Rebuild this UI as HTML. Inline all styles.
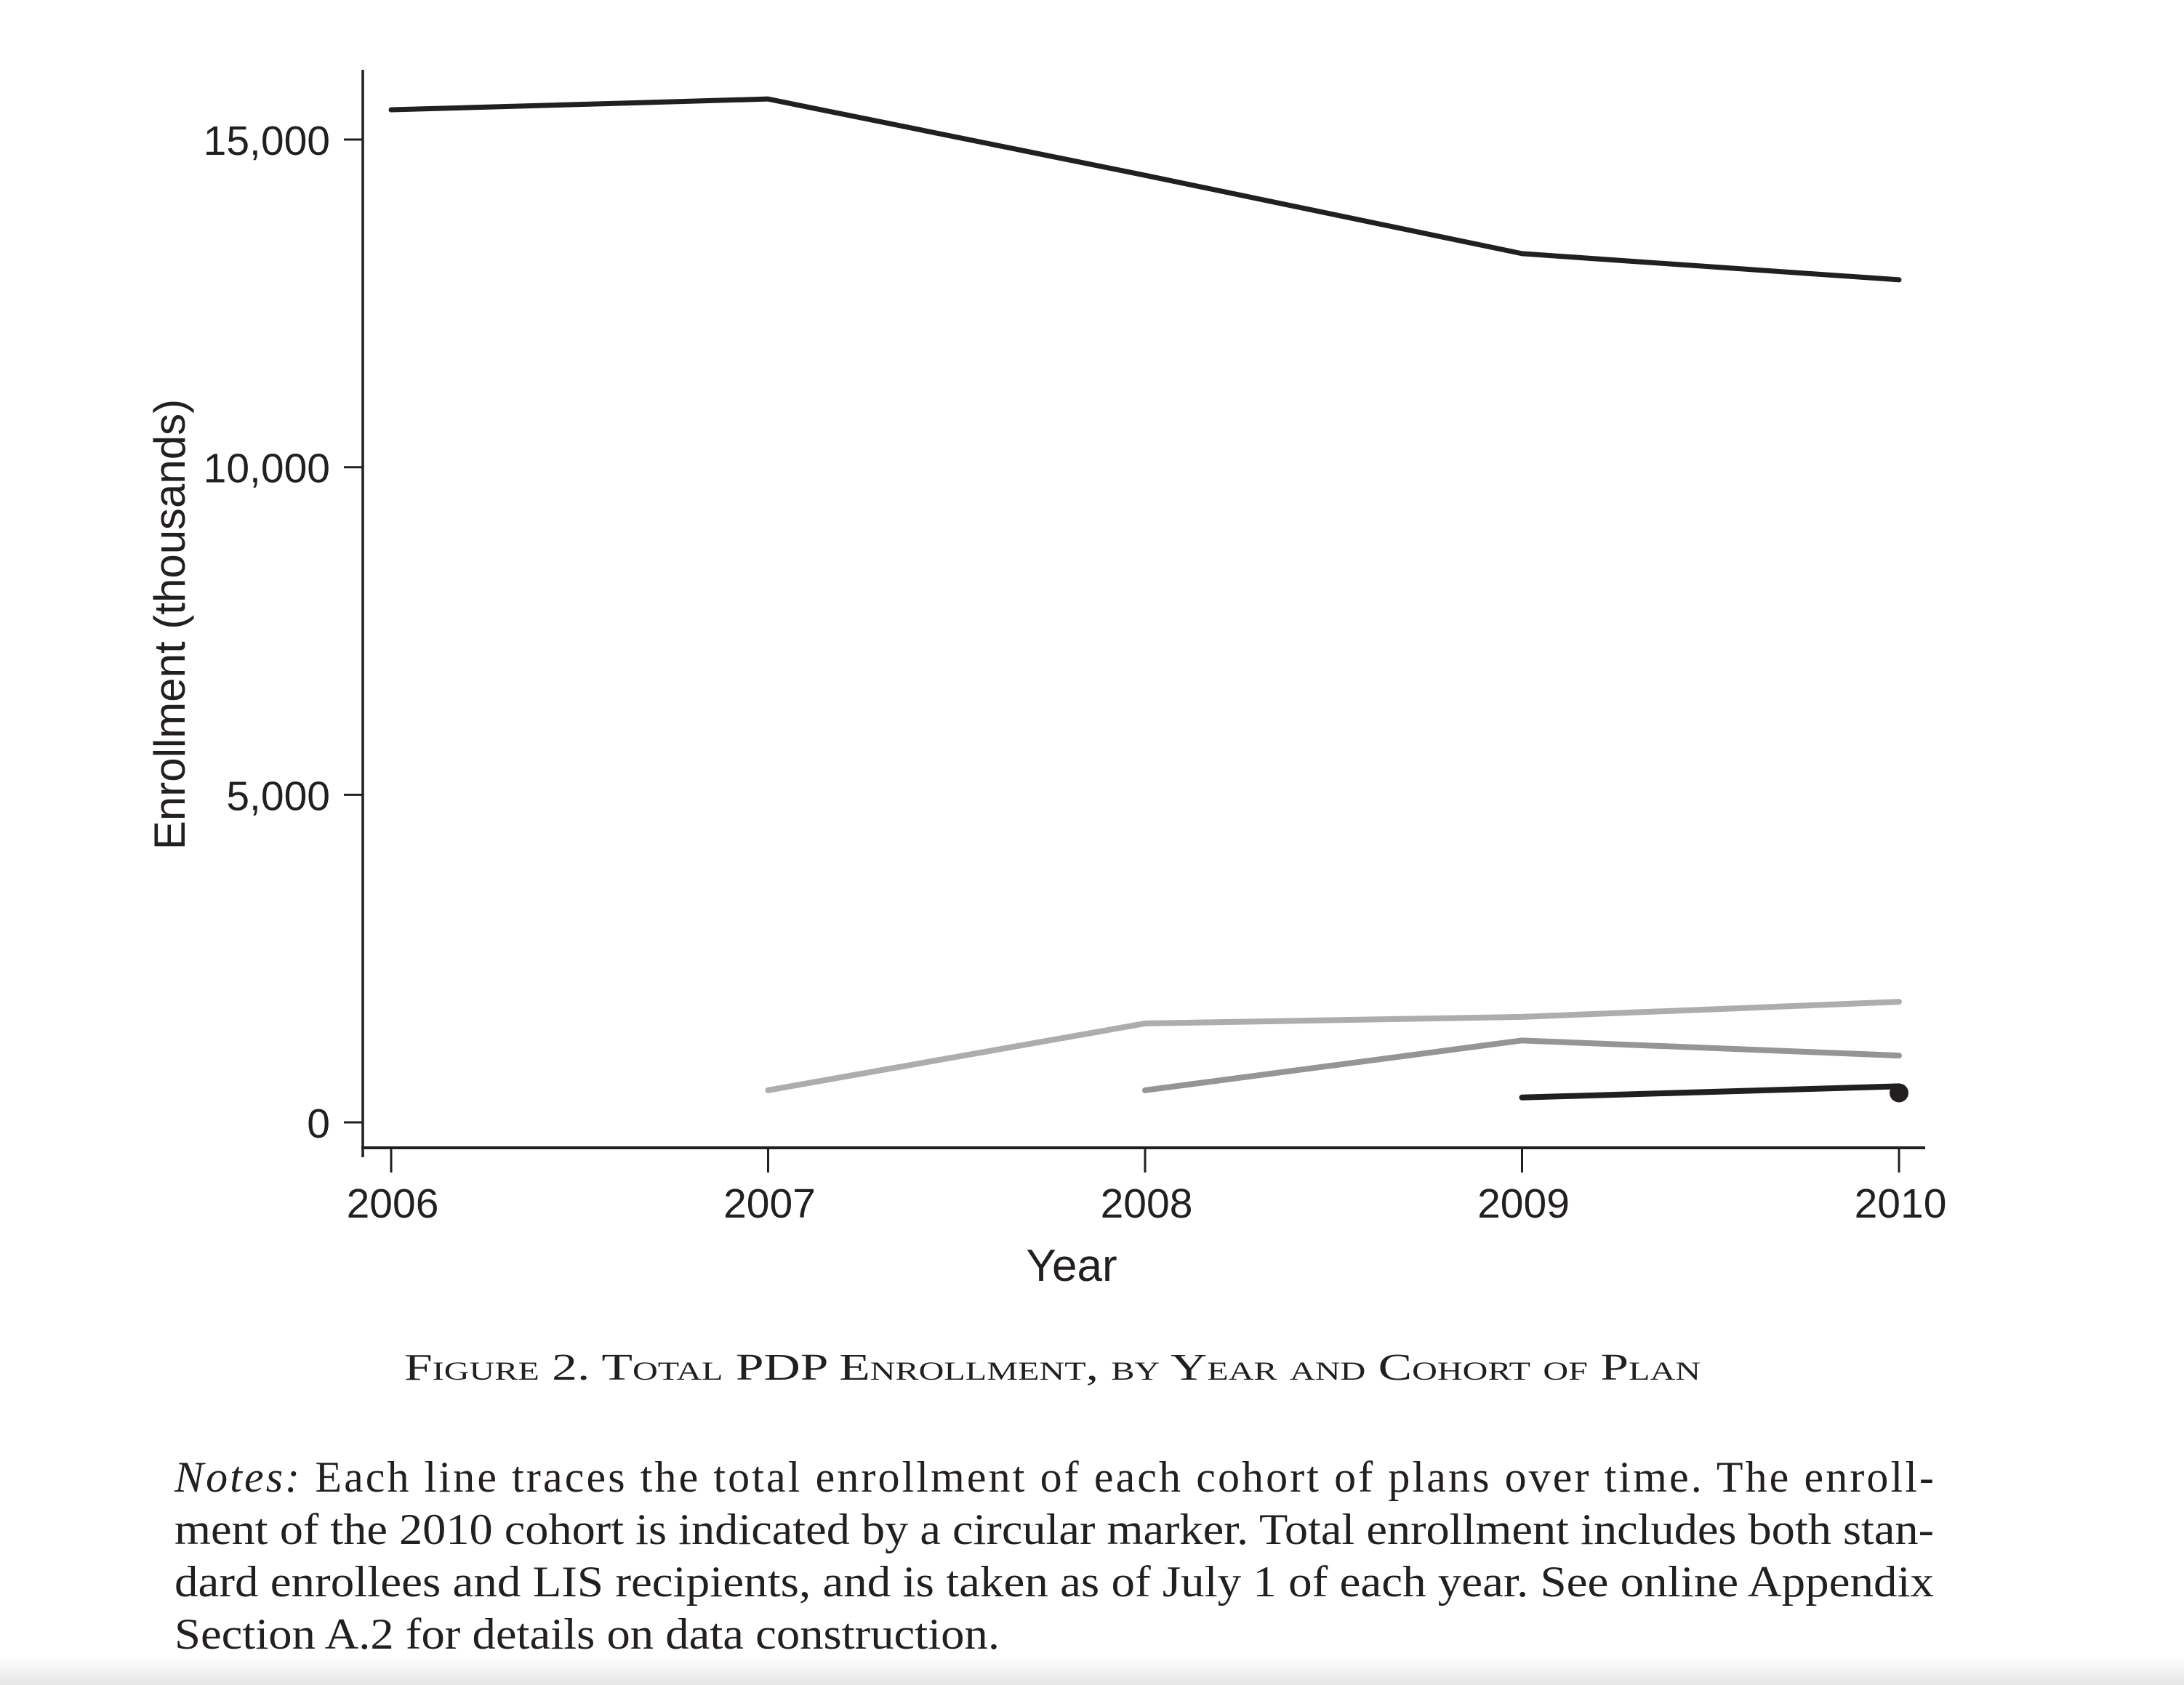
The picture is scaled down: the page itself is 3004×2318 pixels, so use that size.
<!DOCTYPE html>
<html><head><meta charset="utf-8">
<style>
html,body{margin:0;padding:0;background:#fff;}
svg{display:block;}
.sans{font-family:"Liberation Sans",Arial,sans-serif;fill:#231f20;}
.serif{font-family:"Liberation Serif","Times New Roman",serif;fill:#231f20;}
</style></head>
<body>
<svg id="chart" width="3004" height="2318" viewBox="0 0 3004 2318" xmlns="http://www.w3.org/2000/svg">
<defs>
<linearGradient id="shade" x1="0" y1="0" x2="0" y2="1">
<stop offset="0" stop-color="#fff"/><stop offset="1" stop-color="#e6e6e6"/>
</linearGradient>
</defs>
<rect x="0" y="2278" width="3004" height="40" fill="url(#shade)"/>
<g id="axes"></g>
<g id="series"></g>
<text class="sans" font-size="60" text-anchor="middle" transform="translate(254,859) rotate(-90)">Enrollment (thousands)</text>
<text class="sans" font-size="62" text-anchor="middle" x="1474" y="1762">Year</text>
<text class="serif" font-size="52" x="556" y="1898" textLength="1783" lengthAdjust="spacingAndGlyphs" style="font-variant:small-caps">Figure 2. Total PDP Enrollment, by Year and Cohort of Plan</text>
<g class="serif" font-size="60">
<text x="240" y="2052" textLength="2420" lengthAdjust="spacing"><tspan font-style="italic">Notes:</tspan> Each line traces the total enrollment of each cohort of plans over time. The enroll-</text>
<text x="240" y="2124" textLength="2420" lengthAdjust="spacingAndGlyphs">ment of the 2010 cohort is indicated by a circular marker. Total enrollment includes both stan-</text>
<text x="240" y="2196" textLength="2420" lengthAdjust="spacingAndGlyphs">dard enrollees and LIS recipients, and is taken as of July 1 of each year. See online Appendix</text>
<text x="240" y="2268" textLength="1135" lengthAdjust="spacingAndGlyphs">Section A.2 for details on data construction.</text>
</g>
</svg>
<script>
const years = [2006, 2007, 2008, 2009, 2010];
const yTicks = [0, 5000, 10000, 15000];
const yTickLabels = ["0", "5,000", "10,000", "15,000"];
const cohort2006 = [15455, 15620, 14455, 13260, 12860];
const cohort2007 = [null, 490, 1510, 1610, 1840];
const cohort2008 = [null, null, 490, 1250, 1020];
const cohort2009 = [null, null, null, 380, 550];
const cohort2010 = [null, null, null, null, 450];

const NS = "http://www.w3.org/2000/svg";
function xScale(yr){ return 538 + (yr - 2006) * 518.5; }
function yScale(v){ return 1544 - v * 0.09013; }
function mk(tag, attrs, parent){
  const el = document.createElementNS(NS, tag);
  for (const k in attrs) el.setAttribute(k, attrs[k]);
  parent.appendChild(el);
  return el;
}
const axes = document.getElementById('axes');
const series = document.getElementById('series');

let yl = mk('line', {x1:499, y1:96, x2:499, y2:1592, stroke:'#231f20', 'stroke-width':3.5}, axes);


let xl = mk('line', {x1:497, y1:1579, x2:2648, y2:1579, stroke:'#231f20', 'stroke-width':4}, axes);



yTicks.forEach((v, i) => {
  const y = yScale(v);
  const t = mk('line', {x1:473, y1:y, x2:499, y2:y, stroke:'#231f20', 'stroke-width':3}, axes);
  
  
  const lb = mk('text', {x:454, y:y + 21, 'text-anchor':'end', 'font-size':57, class:'sans'}, axes);
  lb.textContent = yTickLabels[i];
  
  
});
years.forEach(yr => {
  const x = xScale(yr);
  const t = mk('line', {x1:x, y1:1581, x2:x, y2:1613, stroke:'#231f20', 'stroke-width':3}, axes);
  
  
  const lb = mk('text', {x:x + 2, y:1675, 'text-anchor':'middle', 'font-size':57, class:'sans'}, axes);
  lb.textContent = String(yr);
  
  
});

function drawLine(vals, color, width, name){
  const pts = [];
  vals.forEach((v, i) => { if (v !== null) pts.push(xScale(years[i]) + ',' + yScale(v)); });
  const p = mk('polyline', {points: pts.join(' '), fill:'none', stroke:color, 'stroke-width':width, 'stroke-linecap':'round', 'stroke-linejoin':'round'}, series);
  
  
}
drawLine(cohort2006, '#231f20', 7, 'cohort-2006-line');
drawLine(cohort2007, '#acadb0', 8, 'cohort-2007-line');
drawLine(cohort2008, '#949598', 8, 'cohort-2008-line');
drawLine(cohort2009, '#231f20', 8, 'cohort-2009-line');
cohort2010.forEach((v, i) => {
  if (v === null) return;
  const c = mk('circle', {cx: xScale(years[i]), cy: yScale(v), r: 13, fill:'#231f20'}, series);
  
  
});
</script>
</body></html>
